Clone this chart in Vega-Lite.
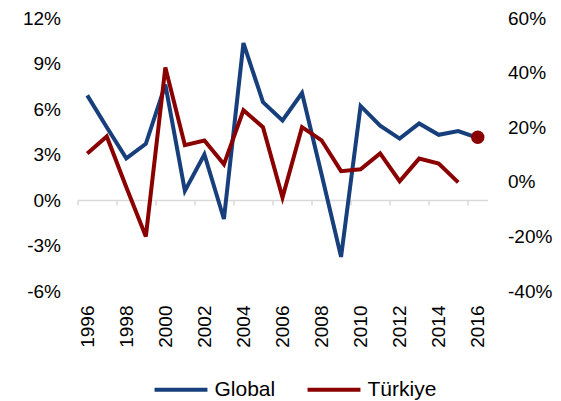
{
  "$schema": "https://vega.github.io/schema/vega-lite/v6.json",
  "width": 410,
  "height": 273,
  "autosize": "none",
  "padding": {"left": 77.5, "top": 18, "right": 73.5, "bottom": 110},
  "background": "white",
  "config": {
    "view": {"stroke": null},
    "font": "Liberation Sans",
    "axis": {"labelFont": "Liberation Sans", "labelColor": "#000000", "labelFontSize": 19, "grid": false, "title": null},
    "legend": {"labelFont": "Liberation Sans", "labelColor": "#000000", "labelFontSize": 21}
  },
  "datasets": {
    "lines": [
      {"year": 1996, "series": "Global", "value": 6.9},
      {"year": 1997, "series": "Global", "value": 4.8},
      {"year": 1998, "series": "Global", "value": 2.75},
      {"year": 1999, "series": "Global", "value": 3.7},
      {"year": 2000, "series": "Global", "value": 7.6},
      {"year": 2001, "series": "Global", "value": 0.6},
      {"year": 2002, "series": "Global", "value": 3.0},
      {"year": 2003, "series": "Global", "value": -1.25},
      {"year": 2004, "series": "Global", "value": 10.35},
      {"year": 2005, "series": "Global", "value": 6.45},
      {"year": 2006, "series": "Global", "value": 5.25},
      {"year": 2007, "series": "Global", "value": 7.05},
      {"year": 2008, "series": "Global", "value": 1.7},
      {"year": 2009, "series": "Global", "value": -3.75},
      {"year": 2010, "series": "Global", "value": 6.2},
      {"year": 2011, "series": "Global", "value": 4.9},
      {"year": 2012, "series": "Global", "value": 4.05},
      {"year": 2013, "series": "Global", "value": 5.05},
      {"year": 2014, "series": "Global", "value": 4.3},
      {"year": 2015, "series": "Global", "value": 4.55},
      {"year": 2016, "series": "Global", "value": 4.1}
    ],
    "turkiye": [
      {"year": 1996, "series": "Türkiye", "value": 10.4},
      {"year": 1997, "series": "Türkiye", "value": 16.6},
      {"year": 1998, "series": "Türkiye", "value": -2},
      {"year": 1999, "series": "Türkiye", "value": -20},
      {"year": 2000, "series": "Türkiye", "value": 41.9},
      {"year": 2001, "series": "Türkiye", "value": 13.4},
      {"year": 2002, "series": "Türkiye", "value": 15.1},
      {"year": 2003, "series": "Türkiye", "value": 6.4},
      {"year": 2004, "series": "Türkiye", "value": 26.2},
      {"year": 2005, "series": "Türkiye", "value": 20},
      {"year": 2006, "series": "Türkiye", "value": -5.8},
      {"year": 2007, "series": "Türkiye", "value": 20},
      {"year": 2008, "series": "Türkiye", "value": 15.2},
      {"year": 2009, "series": "Türkiye", "value": 3.9},
      {"year": 2010, "series": "Türkiye", "value": 4.6},
      {"year": 2011, "series": "Türkiye", "value": 10.4},
      {"year": 2012, "series": "Türkiye", "value": 0.2},
      {"year": 2013, "series": "Türkiye", "value": 8.5},
      {"year": 2014, "series": "Türkiye", "value": 6.7},
      {"year": 2015, "series": "Türkiye", "value": -0.2}
    ],
    "marker": [
      {"year": 2016, "series": "Türkiye", "value": 16.3}
    ]
  },
  "layer": [
    {
      "data": {"name": "lines"},
      "mark": {"type": "line", "strokeWidth": 4, "strokeJoin": "miter"},
      "encoding": {
        "x": {
          "field": "year", "type": "quantitative",
          "scale": {"domain": [1995.5, 2016.5], "nice": false, "zero": false},
          "axis": {
            "orient": "bottom",
            "values": [1996, 1998, 2000, 2002, 2004, 2006, 2008, 2010, 2012, 2014, 2016],
            "format": "d",
            "labelAngle": 270,
            "labelAlign": "right",
            "labelBaseline": "middle",
            "labelPadding": 14,
            "ticks": false,
            "domain": false
          }
        },
        "y": {
          "field": "value", "type": "quantitative",
          "scale": {"domain": [-6, 12], "nice": false},
          "axis": {
            "orient": "left",
            "values": [-6, -3, 0, 3, 6, 9, 12],
            "labelExpr": "datum.value + '%'",
            "ticks": false,
            "domain": false,
            "labelPadding": 17
          }
        },
        "color": {
          "field": "series", "type": "nominal",
          "scale": {"domain": ["Global", "Türkiye"], "range": ["#163F7C", "#8A0000"]},
          "legend": {
            "orient": "none",
            "legendX": 75,
            "legendY": 343,
            "direction": "horizontal",
            "title": null,
            "symbolType": "stroke",
            "symbolSize": 2800,
            "symbolStrokeWidth": 4,
            "labelOffset": 5,
            "columnPadding": 24
          }
        }
      }
    },
    {
      "layer": [
        {
          "data": {"name": "turkiye"},
          "mark": {"type": "line", "strokeWidth": 4, "strokeJoin": "miter"},
          "encoding": {
            "x": {
              "field": "year", "type": "quantitative",
              "axis": {
                "orient": "bottom",
                "offset": -91,
                "values": [1995.5, 1997.5, 1999.5, 2001.5, 2003.5, 2005.5, 2007.5, 2009.5, 2011.5, 2013.5, 2015.5],
                "labels": false,
                "domainColor": "#D9D9D9",
                "domainWidth": 1.5,
                "tickColor": "#D9D9D9",
                "tickWidth": 1.5,
                "tickSize": 5
              }
            },
            "y": {
              "field": "value", "type": "quantitative",
              "scale": {"domain": [-40, 60], "nice": false},
              "axis": {
                "orient": "right",
                "values": [-40, -20, 0, 20, 40, 60],
                "labelExpr": "datum.value + '%'",
                "ticks": false,
                "domain": false,
                "labelPadding": 20
              }
            },
            "color": {"field": "series", "type": "nominal"}
          }
        },
        {
          "data": {"name": "marker"},
          "mark": {"type": "point", "filled": true, "size": 180, "opacity": 1},
          "encoding": {
            "x": {"field": "year", "type": "quantitative"},
            "y": {"field": "value", "type": "quantitative"},
            "color": {"field": "series", "type": "nominal"}
          }
        }
      ]
    }
  ],
  "resolve": {"scale": {"y": "independent"}, "axis": {"x": "independent"}}
}
